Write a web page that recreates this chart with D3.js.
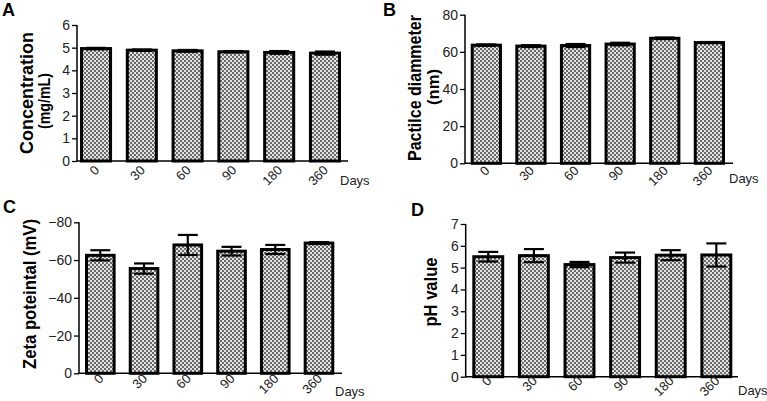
<!DOCTYPE html>
<html><head><meta charset="utf-8">
<script src="https://cdn.jsdelivr.net/npm/d3@7"></script>
<style>body{margin:0;background:#fff}svg{display:block}text{font-family:"Liberation Sans",Arial,sans-serif}</style>
</head><body><svg id="c" width="767" height="401"></svg>
<script>
const days = ["0","30","60","90","180","360"];
const concValues = [4.96, 4.89, 4.86, 4.82, 4.79, 4.76];
const concErrors = [0.03, 0.03, 0.04, 0.03, 0.06, 0.07];
const concTicks = [0,1,2,3,4,5,6];
const sizeValues = [63.6, 63.1, 63.4, 64.2, 67.3, 65.0];
const sizeErrors = [0.4, 0.5, 0.8, 0.7, 0.4, 0.3];
const sizeTicks = [0,20,40,60,80];
const zetaValues = [-62.5, -55.5, -68.0, -64.7, -65.6, -69.0];
const zetaErrors = [2.7, 2.7, 5.3, 2.3, 2.4, 0.5];
const zetaTicks = [0,-20,-40,-60,-80];
const phValues = [5.50, 5.55, 5.14, 5.46, 5.57, 5.58];
const phErrors = [0.22, 0.30, 0.12, 0.23, 0.23, 0.53];
const phTicks = [0,1,2,3,4,5,6,7];

const svg = d3.select("#c");
const defs = svg.append("defs");
const pat = defs.append("pattern").attr("id","chk").attr("patternUnits","userSpaceOnUse")
  .attr("width",4).attr("height",4);
pat.append("rect").attr("width",4).attr("height",4).attr("fill","#e4e4e4");
pat.append("rect").attr("x",0).attr("y",0).attr("width",2).attr("height",2).attr("fill","#6a6a6a");
pat.append("rect").attr("x",2).attr("y",2).attr("width",2).attr("height",2).attr("fill","#6a6a6a");

function panel(o){
  const g = svg.append("g");
  const y = d3.scaleLinear().domain(o.domain).range([o.y0, o.y1]);
  const x = d3.scaleBand().domain(days).range([o.bx0, o.bx1]).paddingInner(0.3).paddingOuter(0);
  g.selectAll("rect.bar").data(o.values).join("rect")
    .attr("x",(d,i)=>x(days[i])+1.5).attr("width",x.bandwidth()-3)
    .attr("y",d=>y(d)).attr("height",d=>y(o.domain[0])-y(d))
    .attr("fill","url(#chk)").attr("stroke","#000").attr("stroke-width",3);
  const eb = g.selectAll("g.eb").data(o.values).join("g");
  const cx = (d,i)=>x(days[i])+x.bandwidth()/2;
  eb.append("line").attr("x1",cx).attr("x2",cx)
    .attr("y1",(d,i)=>y(d - o.errors[i])).attr("y2",(d,i)=>y(d + o.errors[i]))
    .attr("stroke","#000").attr("stroke-width",2.2);
  [-1,1].forEach(s=>{
    eb.append("line").attr("x1",(d,i)=>cx(d,i)-10).attr("x2",(d,i)=>cx(d,i)+10)
      .attr("y1",(d,i)=>y(d + s*o.errors[i])).attr("y2",(d,i)=>y(d + s*o.errors[i]))
      .attr("stroke","#000").attr("stroke-width",2.2);
  });
  const ya = g.append("g").attr("transform",`translate(${o.ax},0)`)
    .call(d3.axisLeft(y).tickValues(o.ticks).tickSize(5).tickPadding(2).tickFormat(d3.format("d")));
  ya.select(".domain").attr("stroke-width",1.5).attr("d",`M0,${o.y0+0.75}V${o.y1}`);
  ya.selectAll(".tick line").attr("stroke-width",1.3);
  ya.selectAll(".tick text").attr("font-size",14).attr("fill","#222");
  const xa = g.append("g").attr("transform",`translate(0,${o.y0})`)
    .call(d3.axisBottom(x).tickSize(0).tickPadding(0));
  xa.select(".domain").attr("stroke-width",1.5).attr("d",`M${o.ax},0H${o.axEnd}`);
  xa.selectAll(".tick text").attr("font-size",13).attr("fill","#222")
    .attr("text-anchor","end").attr("dy",0).attr("y",0)
    .attr("transform",`translate(4,${o.lblOff}) rotate(-45)`);
  g.append("text").attr("x",o.daysX).attr("y",o.y0+o.daysOff).attr("font-size",13).attr("fill","#222").text("Days");
  o.titles.forEach(t=>{
    g.append("text").attr("transform",`translate(${t.x},${t.cy}) rotate(-90)`)
      .attr("text-anchor","middle").attr("font-size",t.fs).attr("font-weight","bold")
      .attr("textLength",t.len).attr("lengthAdjust","spacingAndGlyphs").text(t.text);
  });
  g.append("text").attr("x",o.lx).attr("y",o.ly).attr("font-size",18).attr("font-weight","bold").text(o.letter);
}

panel({letter:"A",lx:2,ly:16,domain:[0,6],y0:161,y1:25,ax:77,axEnd:348,bx0:80,bx1:341,
  values:concValues,errors:concErrors,ticks:concTicks,daysX:340,lblOff:10,daysOff:24,
  titles:[{x:33,cy:93,len:122,fs:19,text:"Concentration"},{x:50,cy:101,len:56,fs:16,text:"(mg/mL)"}]});
panel({letter:"B",lx:383,ly:16,domain:[0,80],y0:163.3,y1:14.7,ax:465,axEnd:733,bx0:470.7,bx1:725,
  values:sizeValues,errors:sizeErrors,ticks:sizeTicks,daysX:729,lblOff:8,daysOff:20,
  titles:[{x:421,cy:88,len:146,fs:18,text:"Pactilce diammeter"},{x:439,cy:87,len:36,fs:17,text:"(nm)"}]});
panel({letter:"C",lx:3,ly:213,domain:[0,-80],y0:373.3,y1:222.3,ax:79,axEnd:342,bx0:85,bx1:334.3,
  values:zetaValues,errors:zetaErrors,ticks:zetaTicks,daysX:335,lblOff:6,daysOff:23,
  titles:[{x:36,cy:294,len:150,fs:19,text:"Zeta poteintal (mV)"}]});
panel({letter:"D",lx:411,ly:216,domain:[0,7],y0:376.7,y1:224,ax:465.7,axEnd:738,bx0:472.3,bx1:732.3,
  values:phValues,errors:phErrors,ticks:phTicks,daysX:738,lblOff:5,daysOff:18,
  titles:[{x:437,cy:292,len:69,fs:19,text:"pH value"}]});
</script></body></html>
